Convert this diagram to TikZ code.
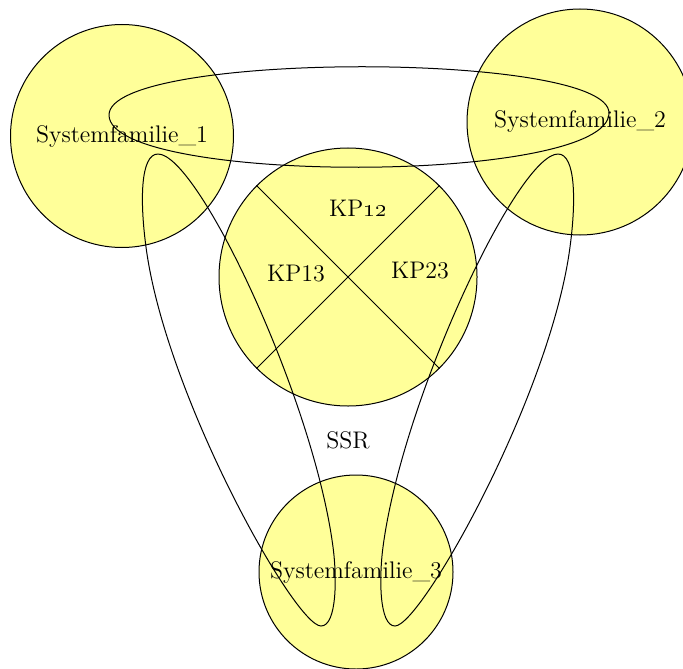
\documentclass[tikz,border=0pt]{standalone}
\usepackage{tikz}
\usetikzlibrary{positioning}
\definecolor{famyellow}{RGB}{255,255,153}

\begin{document}
\begin{tikzpicture}[x=0.5pt,y=-0.5pt,line width=0.5pt,
		every node/.style={font=\fontsize{12}{14}\selectfont},
		famcircle/.style={circle,draw,fill=famyellow,inner sep=0pt}]
		\useasboundingbox (0,0) rectangle (683,668);
		\node[famcircle,minimum size=111.5pt] (sf1) at (122,136) {Systemfamilie\_1};
		\node[famcircle,minimum size=113pt] (sf2) at (580,122) {Systemfamilie\_2};
		\node[famcircle,minimum size=129pt] (kp) at (348,277) {};
		\node[famcircle,minimum size=97pt] (sf3) at (356,572) {Systemfamilie\_3};
		\draw (kp.135) -- (kp.-45);
		\draw (kp.45) -- (kp.-135);
		\node (kp12) at (358,208) {KP\oldstylenums{12}};
		\node (kp13) at (296,274) {KP13};
		\node (kp23) at (420,271) {KP23};
		\node (ssr) at (348,440) {SSR};
		\coordinate (l12) at (109,115);
		\coordinate (r12) at (609,113);
		\coordinate (t13) at (158,154);
		\coordinate (m13) at (146,247);
		\coordinate (b13) at (321,626);
		\coordinate (n13) at (333,547);
		\coordinate (t23) at (558,154);
		\coordinate (m23) at (570,247);
		\coordinate (b23) at (395,626);
		\coordinate (n23) at (383,547);
		\draw (l12) .. controls +(0,-64) and +(0,-62) .. (r12) .. controls +(0,72) and +(0,70) .. (l12);
		\draw (t13) .. controls +(-18,0) and +(-6,-44.5) .. (m13) .. controls +(19.5,148.5) and +(-26,0) .. (b13) .. controls +(16,0) and +(4,30) .. (n13) .. controls +(-19.5,-148.5) and +(40,0) .. (t13);
		\draw (t23) .. controls +(18,0) and +(6,-44.5) .. (m23) .. controls +(-19.5,148.5) and +(26,0) .. (b23) .. controls +(-16,0) and +(-4,30) .. (n23) .. controls +(19.5,-148.5) and +(-40,0) .. (t23);
\end{tikzpicture}
\end{document}
